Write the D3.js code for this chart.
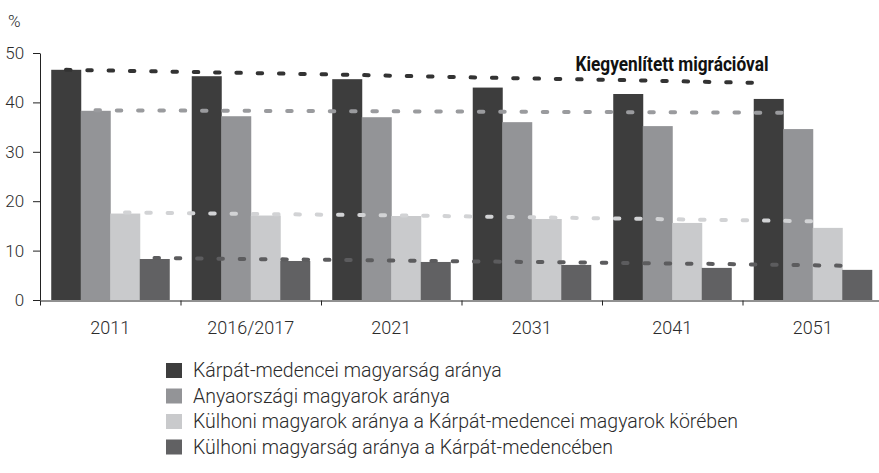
<!DOCTYPE html>
<html>
<head>
<meta charset="utf-8">
<script src="https://cdn.jsdelivr.net/npm/d3@7"></script>
<style>
  body { margin: 0; background: #fff; }
  svg text { font-family: Roboto, "Open Sans", sans-serif; fill: #2b2b2b; }
  .axis text { font-weight: 300; }
  .axis path, .axis line { stroke: #222; }
</style>
</head>
<body>
<svg id="chart" width="879" height="473"></svg>
<script>
// Categories (years)
const years = ["2011", "2016/2017", "2021", "2031", "2041", "2051"];

// Series names (legend)
const seriesNames = [
  "Kárpát-medencei magyarság aránya",
  "Anyaországi magyarok aránya",
  "Külhoni magyarok aránya a Kárpát-medencei magyarok körében",
  "Külhoni magyarság aránya a Kárpát-medencében",
];

// Bar values (%)
const carpathian = [46.6, 45.3, 44.7, 43.0, 41.7, 40.7];
const motherland = [38.3, 37.2, 37.0, 36.0, 35.2, 34.6];
const abroadAmongCarp = [17.5, 17.1, 17.0, 16.4, 15.6, 14.6];
const abroadInBasin = [8.3, 7.9, 7.7, 7.1, 6.5, 6.1];

// "Kiegyenlített migrációval" scenario (dashed lines)
const balCarpathian = [46.6, 46.1, 45.6, 45.0, 44.5, 43.9];
const balMotherland = [38.4, 38.3, 38.2, 38.1, 38.0, 37.9];
const balAbroadAmongCarp = [17.7, 17.4, 17.1, 16.7, 16.3, 15.9];
const balAbroadInBasin = [8.5, 8.2, 7.9, 7.6, 7.3, 6.9];

const yTicks = [0, 10, 20, 30, 40, 50];
const annotation = "Kiegyenlített migrációval";

const barColors = ["#3d3d3d", "#939497", "#c9cacc", "#616163"];
const lineColors = ["#333333", "#9a9b9e", "#d2d3d5", "#5c5c5e"];

const barData = [carpathian, motherland, abroadAmongCarp, abroadInBasin];
const lineData = [balCarpathian, balMotherland, balAbroadAmongCarp, balAbroadInBasin];

const svg = d3.select("#chart");

// Scales
const x = d3.scaleBand().domain(years).range([40, 883]).padding(0);
const groupPad = x.bandwidth() * 0.08;
const x1 = d3.scaleBand()
  .domain(d3.range(4))
  .range([groupPad, x.bandwidth() - groupPad]);
const y = d3.scaleLinear().domain([0, 50]).range([300, 53]);
const xEdges = d3.scaleLinear().domain([0, years.length]).range([40, 883]);

// Bars
const groups = svg.append("g")
  .selectAll("g")
  .data(years)
  .join("g")
  .attr("transform", (d) => `translate(${x(d)},0)`);

groups.selectAll("rect")
  .data((d, i) => barData.map((s, k) => ({ k, v: s[i] })))
  .join("rect")
  .attr("x", (d) => x1(d.k))
  .attr("width", x1.bandwidth() + 0.5)
  .attr("y", (d) => y(d.v))
  .attr("height", (d) => y(0) - y(d.v))
  .attr("fill", (d) => barColors[d.k]);

// Dashed scenario lines
const line = d3.line()
  .x((d, i) => x(years[i]) + x1(d.k) + x1.bandwidth() / 2)
  .y((d) => y(d.v));

svg.append("g")
  .selectAll("path")
  .data(lineData.map((s, k) => s.map((v) => ({ k, v }))))
  .join("path")
  .attr("d", line)
  .attr("fill", "none")
  .attr("stroke", (d) => lineColors[d[0].k])
  .attr("stroke-width", 4)
  .attr("stroke-linecap", "round")
  .attr("stroke-dasharray", "4.5,16.8");

// Annotation
svg.append("text")
  .attr("x", x(years[5]) + x1(0) + x1.bandwidth() / 2)
  .attr("y", 71)
  .attr("text-anchor", "end")
  .attr("font-size", 20)
  .attr("font-weight", "bold")
  .attr("textLength", 193)
  .attr("lengthAdjust", "spacingAndGlyphs")
  .style("fill", "#111")
  .text(annotation);

// Y axis
const yAxis = svg.append("g")
  .attr("class", "axis")
  .attr("transform", "translate(40,0)")
  .call(d3.axisLeft(y).tickValues(yTicks).tickSize(7).tickPadding(8).tickSizeOuter(0));
yAxis.selectAll("text").attr("font-size", 17).attr("dx", "-0.05em");

svg.append("text")
  .attr("x", 8)
  .attr("y", 27)
  .attr("font-size", 17)
  .attr("font-weight", 300)
  .text("%");

// X axis: ticks at group edges, labels at centres
svg.append("g")
  .attr("class", "axis")
  .attr("transform", "translate(0,300.5)")
  .call(d3.axisBottom(xEdges).tickValues(d3.range(years.length + 1))
    .tickFormat("").tickSize(5).tickSizeOuter(0));

const xLabels = svg.append("g")
  .attr("class", "axis")
  .attr("transform", "translate(0,300.5)")
  .call(d3.axisBottom(x).tickSize(0).tickPadding(21));
xLabels.select(".domain").remove();
xLabels.selectAll("text").attr("font-size", 18);

// Legend
const legend = svg.append("g")
  .attr("transform", "translate(166,363)")
  .selectAll("g")
  .data(seriesNames)
  .join("g")
  .attr("transform", (d, i) => `translate(0,${i * 25.5})`);

legend.append("rect")
  .attr("width", 16)
  .attr("height", 15)
  .attr("fill", (d, i) => barColors[i]);

legend.append("text")
  .attr("x", 27)
  .attr("y", 14)
  .attr("font-size", 19.5)
  .attr("font-weight", 300)
  .text((d) => d);
</script>
</body>
</html>
